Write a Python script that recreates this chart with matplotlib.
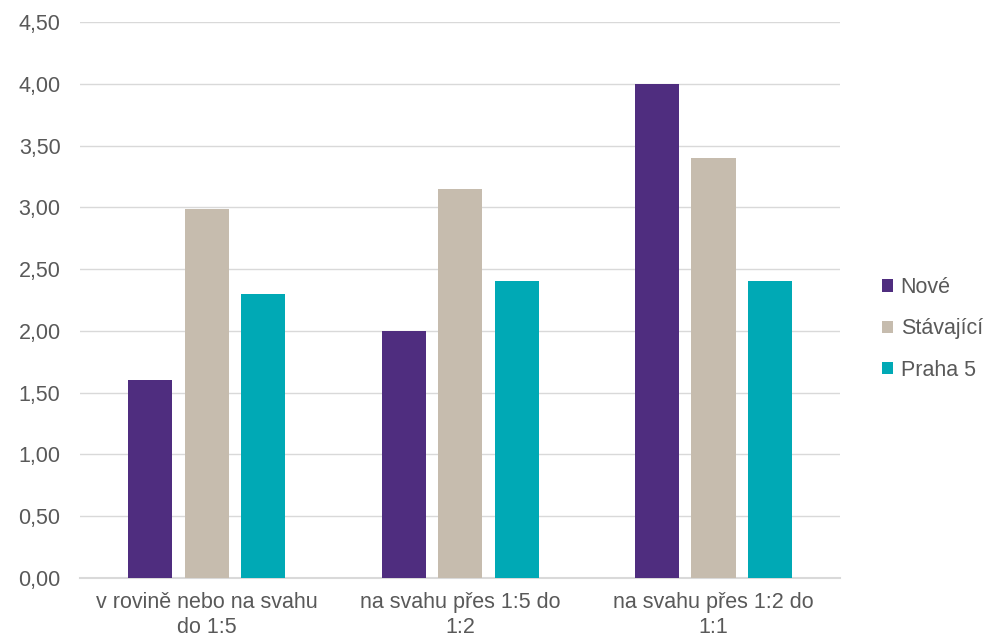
import matplotlib
matplotlib.use("Agg")
import matplotlib.pyplot as plt
import numpy as np

categories = ["v rovině nebo na svahu\ndo 1:5", "na svahu přes 1:5 do\n1:2", "na svahu přes 1:2 do\n1:1"]
series_names = ["Nové", "Stávající", "Praha 5"]
nove = [1.60, 2.00, 4.00]
stavajici = [2.99, 3.15, 3.40]
praha5 = [2.30, 2.40, 2.40]
colors = ["#4F2D7F", "#C6BCAE", "#00A9B5"]
yticks = [0, 0.5, 1, 1.5, 2, 2.5, 3, 3.5, 4, 4.5]

plt.rcParams['font.family'] = ['Liberation Sans', 'DejaVu Sans']
fig = plt.figure(figsize=(9.92, 6.41), dpi=100)
ax = fig.add_axes([0.0806, 0.0983, 0.7664, 0.8674])

x = np.arange(len(categories))
w = 0.174
step = 0.223
for i, (vals, name, c) in enumerate(zip([nove, stavajici, praha5], series_names, colors)):
    ax.bar(x + (i - 1) * step, vals, width=w, color=c, label=name, zorder=3)

fs = 15.5
ax.set_xlim(-0.5, 2.5)
ax.set_ylim(0, 4.5)
ax.set_yticks(yticks)
ax.set_yticklabels([f"{v:.2f}".replace(".", ",") for v in yticks])
ax.set_xticks(x)
ax.set_xticklabels(categories, linespacing=1.25)
ax.tick_params(axis='both', length=0, labelsize=fs, colors="#595959")
ax.tick_params(axis='y', pad=14)
ax.tick_params(axis='x', pad=10)
ax.grid(axis='y', color="#D9D9D9", linewidth=1.0, zorder=0)
for s in ['top', 'right', 'left']:
    ax.spines[s].set_visible(False)
ax.spines['bottom'].set_color("#D9D9D9")
ax.spines['bottom'].set_linewidth(1.5)

leg = ax.legend(loc='center left', bbox_to_anchor=(1.03, 0.448), frameon=False,
                fontsize=fs, handlelength=0.5, handleheight=0.5, handletextpad=0.35,
                labelspacing=0.94, labelcolor="#595959")

fig.savefig("out.png", dpi=100)
